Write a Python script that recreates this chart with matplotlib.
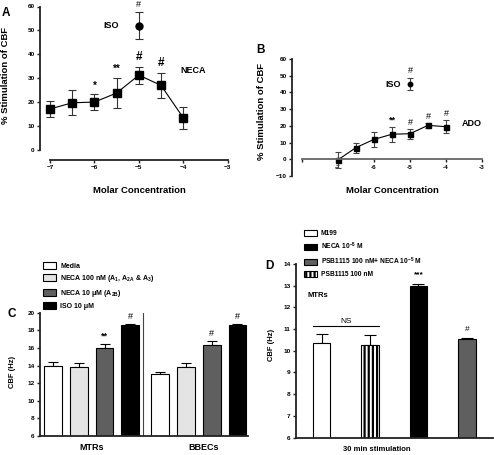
import numpy as np
import matplotlib.pyplot as plt
from matplotlib.patches import Patch

plt.rcParams['font.family'] = ['Liberation Sans', 'DejaVu Sans']
plt.rcParams['font.weight'] = 'bold'
plt.rcParams['axes.labelweight'] = 'bold'
plt.rcParams['mathtext.fontset'] = 'custom'
plt.rcParams['mathtext.rm'] = 'Liberation Sans:bold'
plt.rcParams['mathtext.it'] = 'Liberation Sans:bold'
plt.rcParams['mathtext.bf'] = 'Liberation Sans:bold'
plt.rcParams['mathtext.default'] = 'rm'
plt.rcParams['hatch.linewidth'] = 1.6
plt.rcParams['axes.linewidth'] = 1.3

# ---- data ----
# A: NECA dose response (% stimulation of CBF)
conc_a = [-7, -6.5, -6, -5.5, -5, -4.5, -4]
neca_a = [17.0, 19.6, 19.9, 23.7, 31.2, 26.9, 13.3]
neca_a_err = [3.2, 5.3, 3.4, 6.4, 3.6, 5.4, 4.5]
iso_a_conc = [-5]
iso_a = [52.0]
iso_a_err = [5.5]
sig_a = ['', '', '*', '**', '#', '#', '']

# B: ADO dose response
conc_b = [-7, -6.5, -6, -5.5, -5, -4.5, -4]
ado_b = [-0.3, 7.0, 11.9, 15.0, 15.3, 20.3, 19.5]
ado_b_err = [4.7, 3.0, 4.3, 4.5, 3.0, 1.4, 4.0]
iso_b_conc = [-5]
iso_b = [45.0]
iso_b_err = [3.8]
sig_b = ['', '', '', '**', '#', '#', '#']

# C: CBF (Hz) in MTRs and BBECs
groups_c = ['MTRs', 'BBECs']
treat_c = ['Media', 'NECA 100 nM (A$_1$, A$_{2A}$ & A$_3$)',
           'NECA 10 \u03bcM (A$_{2B}$)', 'ISO 10 \u03bcM']
colors_c = ['white', '#e4e4e4', '#5f5f5f', 'black']
mtr_c = [13.95, 13.8, 16.0, 18.55]
mtr_c_err = [0.48, 0.45, 0.5, 0.13]
bbec_c = [13.02, 13.8, 16.3, 18.55]
bbec_c_err = [0.3, 0.45, 0.47, 0.13]
sig_c = [['', '', '**', '#'], ['', '', '#', '#']]

# D: 30 min stimulation, MTRs
treat_d = ['M199', 'PSB1115 100 nM', 'NECA 10$^{-5}$ M',
           'PSB1115 100 nM+ NECA 10$^{-5}$ M']
colors_d = ['white', 'white', 'black', '#5f5f5f']
hatch_d = ['', '||||', '', '']
vals_d = [10.36, 10.27, 13.0, 10.53]
err_d = [0.42, 0.45, 0.1, 0.05]
sig_d = ['', '', '***', '#']
legend_order_d = [0, 2, 3, 1]

W, H = 494, 455
fig = plt.figure(figsize=(W / 100, H / 100), dpi=100)


def box(l, t, r, b):
    return [l / W, 1 - b / H, (r - l) / W, (b - t) / H]


def pt(x, y):
    return (x / W, 1 - y / H)


def style(ax, fs=4.6):
    ax.patch.set_visible(False)
    for s in ['top', 'right']:
        ax.spines[s].set_visible(False)
    for s in ['left', 'bottom']:
        ax.spines[s].set_color('#222222')
    ax.tick_params(labelsize=fs, length=2.5, width=1.0, pad=1.5,
                   color='#222222')


# ---- panel A ----
axA = fig.add_axes(box(50, 6.5, 227.7, 149.5))
style(axA)
axA.spines['left'].set_position(('outward', 7))
axA.spines['bottom'].set_position(('axes', -0.07))
axA.set_xlim(-7, -3)
axA.set_ylim(0, 60)
axA.set_xticks(np.arange(-7, -2))
axA.set_yticks(np.arange(0, 61, 10))
axA.errorbar(conc_a, neca_a, yerr=neca_a_err, fmt='-s', color='black',
             ecolor='#333333', elinewidth=0.8, capsize=3.2, capthick=0.8,
             ms=5.2, lw=0.8, clip_on=False)
axA.errorbar(iso_a_conc, iso_a, yerr=iso_a_err, fmt='o', color='black',
             ecolor='#333333', elinewidth=0.8, capsize=3.2, capthick=0.8,
             ms=5, clip_on=False)
for x, y, e, s in zip(conc_a, neca_a, neca_a_err, sig_a):
    if s:
        axA.text(x, y + e + 1.5, s, ha='center', va='bottom',
                 fontsize=8.5 if s == '#' else 7)
axA.text(iso_a_conc[0], iso_a[0] + iso_a_err[0] + 1.5, '#', ha='center',
         va='bottom', fontsize=6.5, fontweight='normal')
axA.text(-5.63, 52, 'ISO', ha='center', va='center', fontsize=6.5)
axA.text(-3.78, 33, 'NECA', ha='center', va='center', fontsize=6.5)
axA.set_ylabel('% Stimulation of CBF', fontsize=6.8)
axA.yaxis.set_label_coords(*pt(10.5, 76), transform=fig.transFigure)
axA.set_xlabel('Molar Concentration', fontsize=6.8)
axA.xaxis.set_label_coords(*pt(139, 186), transform=fig.transFigure)
fig.text(*pt(2, 13), 'A', fontsize=8.5, va='center')

# ---- panel B ----
axB = fig.add_axes(box(302, 59, 482, 176))
style(axB)
axB.spines['left'].set_position(('outward', 7))
axB.spines['bottom'].set_position(('data', 0))
axB.spines['bottom'].set_color('#666666')
axB.set_xlim(-8, -3)
axB.set_ylim(-10, 60)
axB.set_xticks(np.arange(-8, -2))
axB.set_xticklabels([''] + [str(v) for v in range(-7, -2)])
axB.set_yticks(np.arange(-10, 61, 10))
axB.errorbar(conc_b, ado_b, yerr=ado_b_err, fmt='-s', color='black',
             ecolor='#444444', elinewidth=0.8, capsize=2, capthick=0.8,
             ms=3.6, lw=0.8)
axB.errorbar(iso_b_conc, iso_b, yerr=iso_b_err, fmt='o', color='black',
             ecolor='#444444', elinewidth=0.8, capsize=2, capthick=0.8, ms=3.2)
for x, y, e, s in zip(conc_b, ado_b, ado_b_err, sig_b):
    if s:
        axB.text(x, y + e + 1.0, s, ha='center', va='bottom', fontsize=6.5,
                 fontweight='bold' if s == '**' else 'normal')
axB.text(iso_b_conc[0], iso_b[0] + iso_b_err[0] + 1.5, '#', ha='center',
         va='bottom', fontsize=6.5, fontweight='normal')
axB.text(-5.47, 45, 'ISO', ha='center', va='center', fontsize=6.5)
axB.text(-3.28, 21.5, 'ADO', ha='center', va='center', fontsize=6.5)
axB.set_ylabel('% Stimulation of CBF', fontsize=6.8)
axB.yaxis.set_label_coords(*pt(266, 112), transform=fig.transFigure)
axB.set_xlabel('Molar Concentration', fontsize=6.8)
axB.xaxis.set_label_coords(*pt(392, 186), transform=fig.transFigure)
fig.text(*pt(256, 50), 'B', fontsize=8.5, va='center')

# ---- panel C ----
axC = fig.add_axes(box(40, 312.7, 248.3, 436))
style(axC)
axC.set_xlim(-0.5, 7.57)
axC.set_ylim(6, 20)
axC.set_yticks(np.arange(6, 21, 2))
width_c = 0.69
x_mtr = np.arange(len(mtr_c))
x_bbec = x_mtr + len(mtr_c) + 0.15
for xs, vals, errs, sigs in [(x_mtr, mtr_c, mtr_c_err, sig_c[0]),
                             (x_bbec, bbec_c, bbec_c_err, sig_c[1])]:
    axC.errorbar(xs, vals, yerr=[np.zeros(len(vals)), errs], fmt='none',
                 ecolor='black', elinewidth=0.8, capsize=3.5, capthick=0.8,
                 zorder=1)
    axC.bar(xs, vals, width=width_c, bottom=0, color=colors_c,
            edgecolor='black', linewidth=0.8, zorder=2)
    for x, v, e, s in zip(xs, vals, errs, sigs):
        if s:
            axC.text(x, v + e + 0.35, s, ha='center', va='bottom', fontsize=6.5,
                     fontweight='bold' if s == '**' else 'normal')
axC.axvline((x_mtr[-1] + x_bbec[0]) / 2 - 0.1, color='#444444', lw=0.8)
axC.set_xticks([x_mtr.mean(), x_bbec.mean() + 0.2])
axC.set_xticklabels(groups_c, fontsize=6.5)
axC.tick_params(axis='x', length=0, pad=5)
axC.set_ylabel('CBF (Hz)', fontsize=5.5)
axC.yaxis.set_label_coords(*pt(16, 372), transform=fig.transFigure)
fig.text(*pt(7, 314), 'C', fontsize=8.5, va='center')
handles_c = [Patch(facecolor=c, edgecolor='black', linewidth=0.8)
             for c in colors_c]
fig.legend(handles_c, treat_c, loc='upper left', bbox_to_anchor=pt(43, 262),
           frameon=False, fontsize=5, handlelength=1.9, handleheight=1.1,
           labelspacing=0.5, handletextpad=0.6, borderaxespad=0, borderpad=0)

# ---- panel D ----
axD = fig.add_axes(box(296, 264, 493, 437.5))
style(axD)
axD.set_xlim(-0.53, 3.54)
axD.set_ylim(6, 14)
axD.set_yticks(np.arange(6, 15, 1))
axD.set_xticks([])
x_d = np.arange(len(vals_d))
width_d = 0.36
axD.errorbar(x_d, vals_d, yerr=[np.zeros(len(vals_d)), err_d], fmt='none',
             ecolor='black', elinewidth=0.8, capsize=4, capthick=0.8, zorder=1)
axD.bar(x_d, vals_d, width=width_d, color=colors_d, hatch=hatch_d,
        edgecolor='black', linewidth=0.8, zorder=2)
for x, v, e, s in zip(x_d, vals_d, err_d, sig_d):
    if s:
        axD.text(x, v + e + 0.25, s, ha='center', va='bottom', fontsize=6,
                 fontweight='bold' if s == '***' else 'normal')
ns_left = x_d[0] - width_d / 2
ns_right = x_d[1] + width_d / 2
ns_y = max(v + e for v, e in zip(vals_d[:2], err_d[:2])) + 0.35
axD.plot([ns_left, ns_right], [ns_y, ns_y], color='black', lw=0.8)
axD.text((ns_left + ns_right) / 2, ns_y + 0.08, 'NS', ha='center',
         va='bottom', fontsize=6, fontweight='normal')
axD.text(-0.29, 12.55, 'MTRs', ha='left', va='center', fontsize=5.5)
axD.set_ylabel('CBF (Hz)', fontsize=5.5)
axD.yaxis.set_label_coords(*pt(275, 345), transform=fig.transFigure)
axD.set_xlabel('30 min stimulation', fontsize=5.5)
axD.xaxis.set_label_coords(*pt(377, 446), transform=fig.transFigure)
fig.text(*pt(265, 266), 'D', fontsize=8.5, va='center')
handles_d = [Patch(facecolor=colors_d[i], edgecolor='black', hatch=hatch_d[i],
                   linewidth=0.8) for i in legend_order_d]
fig.legend(handles_d, [treat_d[i] for i in legend_order_d], loc='upper left',
           bbox_to_anchor=pt(304, 230), frameon=False, fontsize=4.8,
           handlelength=1.9, handleheight=1.0, labelspacing=0.55,
           handletextpad=0.6, borderaxespad=0, borderpad=0)

fig.savefig('out.png', dpi=100)
